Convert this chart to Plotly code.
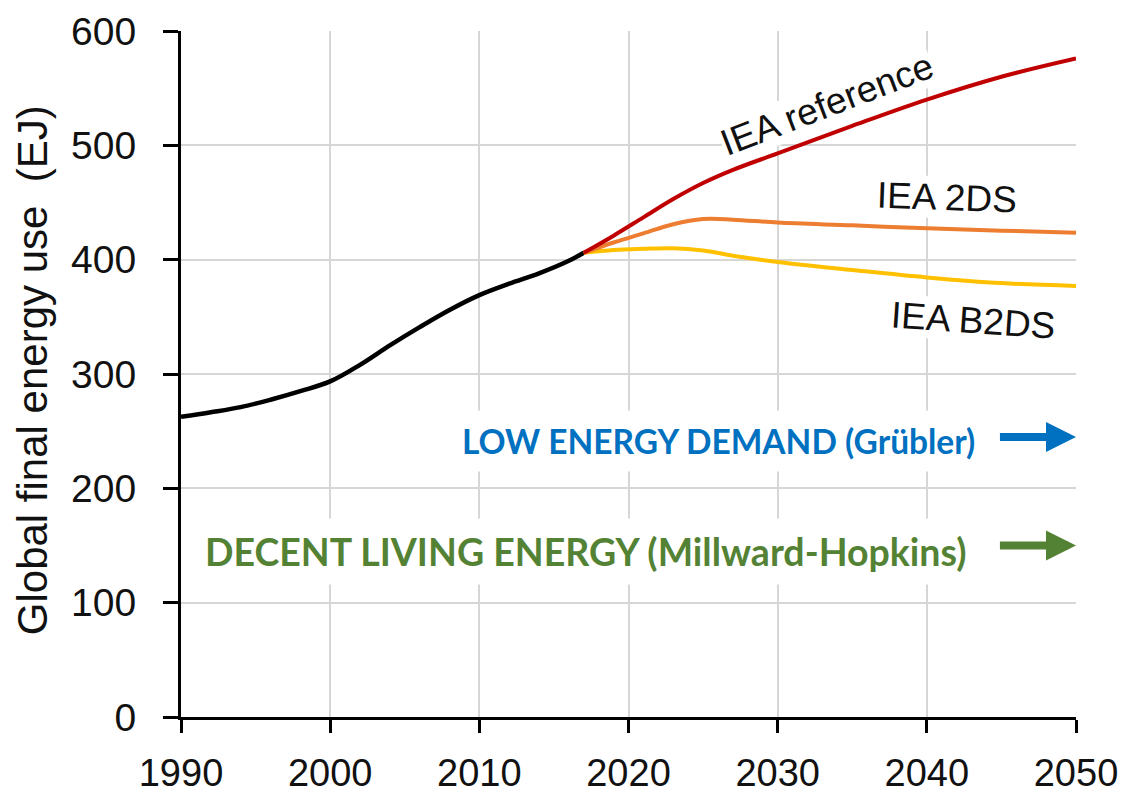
import plotly.graph_objects as go

# Historical global final energy use (EJ)
hist_years = [1990, 1992, 1994, 1996, 1998, 2000, 2002, 2004, 2006, 2008,
              2010, 2012, 2014, 2016, 2017]
hist_energy = [262.5, 266.5, 271, 277.5, 285, 293.5, 308, 325, 341, 356,
               369, 379, 388, 399, 406]

# IEA scenario projections (EJ)
proj_years = [2017, 2019, 2021, 2023, 2025, 2027, 2030, 2035, 2040, 2045, 2050]
iea_reference = [406, 421, 437, 453, 467, 478.5, 493, 517, 540, 560, 576]
iea_2ds = [406, 415, 423, 431, 435.5, 435, 432.4, 430, 427.4, 425.4, 423.5]
iea_b2ds = [406, 408.5, 409.5, 410, 408, 403.5, 398, 391, 384.5, 379.5, 377]

# Low-demand benchmarks for 2050 (EJ)
benchmark_names = ["LOW ENERGY DEMAND (Grübler)",
                   "DECENT LIVING ENERGY (Millward-Hopkins)"]
benchmark_values = [245, 150]

x_ticks = [1990, 2000, 2010, 2020, 2030, 2040, 2050]
y_ticks = [0, 100, 200, 300, 400, 500, 600]

TEXT = "#111111"
BASE_FONT = "Liberation Sans, Arial, sans-serif"
BOLD_FONT = "Lato, Open Sans, sans-serif"

fig = go.Figure()

line_style = dict(width=4, shape="spline", smoothing=1.0)
fig.add_trace(go.Scatter(x=hist_years, y=hist_energy, mode="lines",
                         line=dict(line_style, color="#000000", width=4.5),
                         hoverinfo="skip"))
fig.add_trace(go.Scatter(x=proj_years, y=iea_b2ds, mode="lines",
                         line=dict(line_style, color="#FFC000"),
                         hoverinfo="skip"))
fig.add_trace(go.Scatter(x=proj_years, y=iea_2ds, mode="lines",
                         line=dict(line_style, color="#ED7D31"),
                         hoverinfo="skip"))
fig.add_trace(go.Scatter(x=proj_years, y=iea_reference, mode="lines",
                         line=dict(line_style, color="#C00000"),
                         hoverinfo="skip"))

annotations = []

# Scenario labels
for text, x, y, angle in [("IEA reference", 2033.3, 535.5, -21),
                          ("IEA 2DS", 2041.35, 454.8, 2),
                          ("IEA B2DS", 2043.1, 347.2, 4)]:
    annotations.append(dict(x=x, y=y, xref="x", yref="y", text=text,
                            showarrow=False, textangle=angle,
                            font=dict(family=BASE_FONT, size=37, color=TEXT),
                            bgcolor="white", borderpad=0,
                            xanchor="center", yanchor="middle"))

# Benchmark labels and arrows pointing to 2050
bench_colors = ["#0070C0", "#548235"]
label_pos = [(2026.0, 241.0, 33.5), (2017.1, 145.0, 37.5)]
for name, val, col, (lx, ly, fs) in zip(benchmark_names, benchmark_values,
                                        bench_colors, label_pos):
    annotations.append(dict(x=lx, y=ly, xref="x", yref="y", text="<b>%s</b>" % name,
                            showarrow=False,
                            font=dict(family=BOLD_FONT, size=fs, color=col),
                            bgcolor="white", borderpad=10,
                            xanchor="center", yanchor="middle"))
    annotations.append(dict(x=2050, y=val, xref="x", yref="y",
                            ax=2044.8, ay=val, axref="x", ayref="y",
                            text="", showarrow=True, arrowhead=2,
                            arrowsize=0.75, arrowwidth=8, arrowcolor=col))

# Y-axis title
annotations.append(dict(x=-0.165, y=0.506, xref="paper", yref="paper",
                        text="Global final energy use  (EJ)", showarrow=False,
                        textangle=-90, xanchor="center", yanchor="middle",
                        font=dict(family=BASE_FONT, size=42, color=TEXT)))

fig.update_layout(
    width=1126, height=796,
    margin=dict(l=181, r=50, t=31, b=79),
    paper_bgcolor="white", plot_bgcolor="white",
    showlegend=False,
    annotations=annotations,
    font=dict(family=BASE_FONT, color=TEXT),
)

fig.update_xaxes(range=[1990, 2050], tickvals=x_ticks, automargin=False,
                 showgrid=True, gridcolor="#d6d6d6", gridwidth=2,
                 showline=True, linecolor="#000000", linewidth=3,
                 ticks="outside", ticklen=13, tickwidth=3, tickcolor="#000000",
                 tickfont=dict(family=BASE_FONT, size=38, color=TEXT),
                 ticklabelstandoff=7, zeroline=False)
fig.update_yaxes(range=[0, 600], tickvals=y_ticks, automargin=False,
                 showgrid=True, gridcolor="#d6d6d6", gridwidth=2,
                 showline=True, linecolor="#000000", linewidth=3,
                 ticks="outside", ticklen=15, tickwidth=3, tickcolor="#000000",
                 tickfont=dict(family=BASE_FONT, size=39, color=TEXT),
                 ticklabelstandoff=19, zeroline=False)

fig.write_html("out.html")
